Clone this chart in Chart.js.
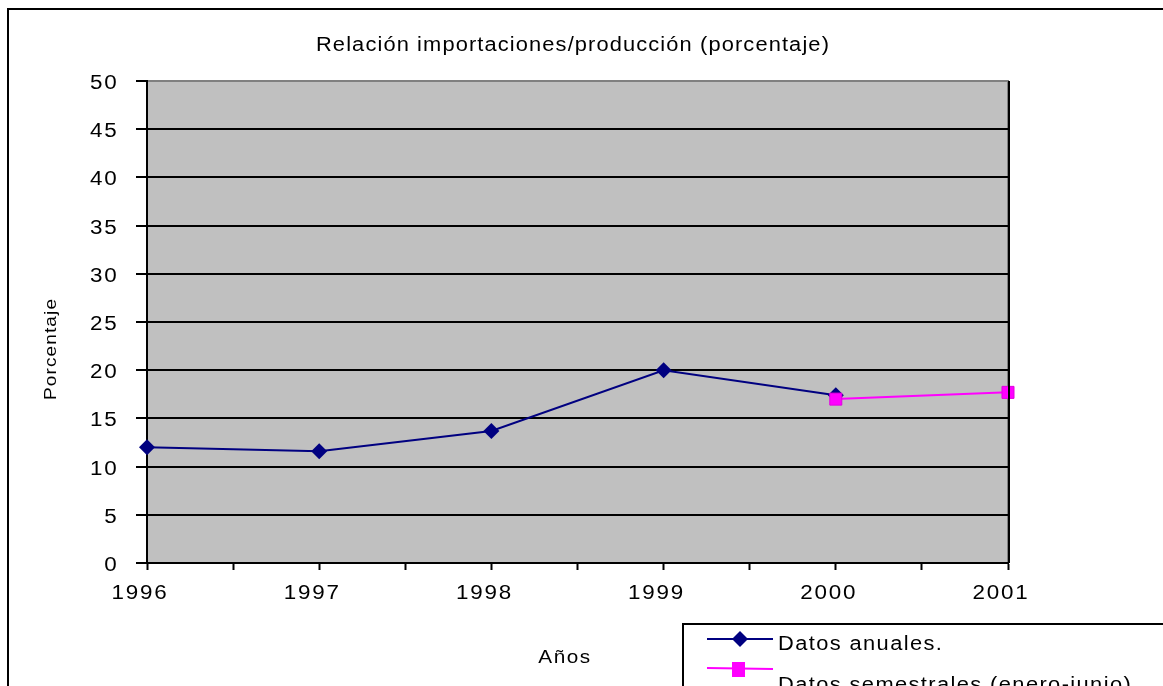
<!DOCTYPE html>
<html>
<head>
    <title>Relación importaciones/producción</title>
    <script src="https://cdn.jsdelivr.net/npm/chart.js"></script>
    <style>
        body { margin: 0; background: #fff; }
    </style>
</head>
<body>
    <canvas id="ratioChart" width="1163" height="686"></canvas>
    <script>
        // data
        var annualYears = [1996, 1997, 1998, 1999, 2000];
        var annualValues = [12.0, 11.6, 13.7, 20.0, 17.4];
        var halfYears = [2000, 2001];
        var halfValues = [17.0, 17.7];
        var yearTicks = [1996, 1997, 1998, 1999, 2000, 2001];

        var chartTitle = 'Relación importaciones/producción (porcentaje)';
        var xTitle = 'Años';
        var yTitle = 'Porcentaje';
        var annualLabel = 'Datos anuales.';
        var halfLabel = 'Datos semestrales (enero-junio).';

        var FONT = '"Liberation Sans", Arial, sans-serif';
        var NAVY = '#000080';
        var PINK = '#FF00FF';
        var STRETCH = 1.12; // the old export draws its text a bit wide

        function toPoints(xs, ys) {
            return xs.map(function (x, i) { return { x: x, y: ys[i] }; });
        }

        function drawText(ctx, text, x, y, size, spacing, align) {
            ctx.save();
            ctx.font = size + 'px ' + FONT;
            ctx.letterSpacing = spacing + 'px';
            ctx.fillStyle = '#000';
            ctx.textAlign = align || 'left';
            ctx.textBaseline = 'alphabetic';
            ctx.fillText(text, x, y);
            ctx.restore();
        }

        // frame, plot background, titles and legend in the old spreadsheet look
        var excelLook = {
            id: 'excelLook',
            beforeInit: function (chart) {
                // widen every glyph round its anchor, tick labels included
                var c = chart.ctx;
                var fill = c.fillText;
                c.fillText = function (text, x, y) {
                    this.save();
                    this.translate(x, y);
                    this.scale(STRETCH, 1);
                    fill.call(this, text, 0, 0);
                    this.restore();
                };
            },
            beforeDraw: function (chart) {
                var ctx = chart.ctx, a = chart.chartArea;
                ctx.save();
                ctx.fillStyle = '#fff';
                ctx.fillRect(0, 0, chart.width, chart.height);
                ctx.lineWidth = 2;
                ctx.strokeStyle = '#000';
                ctx.strokeRect(8, 9, 1300, 1000);
                ctx.fillStyle = '#C0C0C0';
                ctx.fillRect(a.left, a.top, a.right - a.left, a.bottom - a.top);
                ctx.strokeStyle = '#808080';
                ctx.strokeRect(a.left, a.top, a.right - a.left, a.bottom - a.top);
                ctx.restore();
                ctx.letterSpacing = '1.6px'; // used by the tick labels
            },
            afterDatasetsDraw: function (chart) {
                var ctx = chart.ctx, a = chart.chartArea;
                ctx.save();
                ctx.strokeStyle = '#000';
                ctx.lineWidth = 2;
                ctx.beginPath();
                ctx.moveTo(a.right + 1, a.top);
                ctx.lineTo(a.right + 1, a.bottom);
                ctx.stroke();
                ctx.restore();
            },
            afterDraw: function (chart) {
                var ctx = chart.ctx;
                drawText(ctx, chartTitle, 573, 51, 19.5, 1.0, 'center');
                drawText(ctx, xTitle, 565, 663, 18.5, 1.4, 'center');

                ctx.save();
                ctx.translate(56, 349);
                ctx.rotate(-Math.PI / 2);
                drawText(ctx, yTitle, 0, 0, 17, 1.0, 'center');
                ctx.restore();

                // legend box
                ctx.save();
                ctx.fillStyle = '#fff';
                ctx.fillRect(683, 624, 600, 100);
                ctx.lineWidth = 2;
                ctx.strokeStyle = '#000';
                ctx.strokeRect(683, 624, 600, 100);

                ctx.lineWidth = 2;
                ctx.strokeStyle = NAVY;
                ctx.beginPath();
                ctx.moveTo(707, 639);
                ctx.lineTo(773, 639);
                ctx.stroke();
                ctx.fillStyle = NAVY;
                ctx.beginPath();
                ctx.moveTo(740, 631);
                ctx.lineTo(748, 639);
                ctx.lineTo(740, 647);
                ctx.lineTo(732, 639);
                ctx.closePath();
                ctx.fill();

                ctx.strokeStyle = PINK;
                ctx.beginPath();
                ctx.moveTo(707, 668);
                ctx.lineTo(773, 669);
                ctx.stroke();
                ctx.fillStyle = PINK;
                ctx.fillRect(732, 662, 13, 15);
                ctx.restore();

                drawText(ctx, annualLabel, 778, 650, 19.5, 1.25, 'left');
                drawText(ctx, halfLabel, 778, 691, 19.5, 1.25, 'left');
            }
        };

        var ctx = document.getElementById('ratioChart').getContext('2d');
        var ratioChart = new Chart(ctx, {
            type: 'line',
            data: {
                datasets: [{
                    label: halfLabel,
                    data: toPoints(halfYears, halfValues),
                    borderColor: PINK,
                    backgroundColor: PINK,
                    borderWidth: 2,
                    pointStyle: 'rect',
                    pointRadius: 8.5,
                    pointBorderWidth: 1,
                    pointBorderColor: '#E000E0',
                    order: 0,
                    clip: false
                }, {
                    label: annualLabel,
                    data: toPoints(annualYears, annualValues),
                    borderColor: NAVY,
                    backgroundColor: NAVY,
                    borderWidth: 2,
                    pointStyle: 'rectRot',
                    pointRadius: 8,
                    pointBorderWidth: 0,
                    order: 1,
                    clip: false
                }]
            },
            options: {
                responsive: false,
                animation: false,
                events: [],
                layout: { padding: { left: 0, top: 81, right: 155, bottom: 0 } },
                plugins: {
                    legend: { display: false },
                    title: { display: false },
                    tooltip: { enabled: false }
                },
                scales: {
                    x: {
                        type: 'linear',
                        min: yearTicks[0],
                        max: yearTicks[yearTicks.length - 1],
                        afterFit: function (scale) { scale.height = 686 - 563; },
                        border: { display: true, color: '#000', width: 2 },
                        grid: {
                            drawOnChartArea: false,
                            drawTicks: true,
                            tickLength: 7,
                            tickColor: '#000',
                            tickWidth: 2
                        },
                        ticks: {
                            stepSize: 0.5,
                            autoSkip: false,
                            maxRotation: 0,
                            padding: 11,
                            labelOffset: -7,
                            color: '#000',
                            font: { family: FONT, size: 20 },
                            callback: function (v) {
                                return yearTicks.indexOf(v) >= 0 ? String(v) : '';
                            }
                        }
                    },
                    y: {
                        min: 0,
                        max: 50,
                        afterFit: function (scale) { scale.width = 147; },
                        border: { display: true, color: '#000', width: 2 },
                        grid: {
                            color: function (c) {
                                return c.tick && c.tick.value === 50 ? 'rgba(0,0,0,0)' : '#000';
                            },
                            lineWidth: 2,
                            tickLength: 11,
                            tickColor: '#000',
                            tickWidth: 2
                        },
                        ticks: {
                            stepSize: 5,
                            padding: 17.5,
                            labelOffset: 2.5,
                            color: '#000',
                            font: { family: FONT, size: 20 }
                        }
                    }
                }
            },
            plugins: [excelLook]
        });
    </script>
</body>
</html>
